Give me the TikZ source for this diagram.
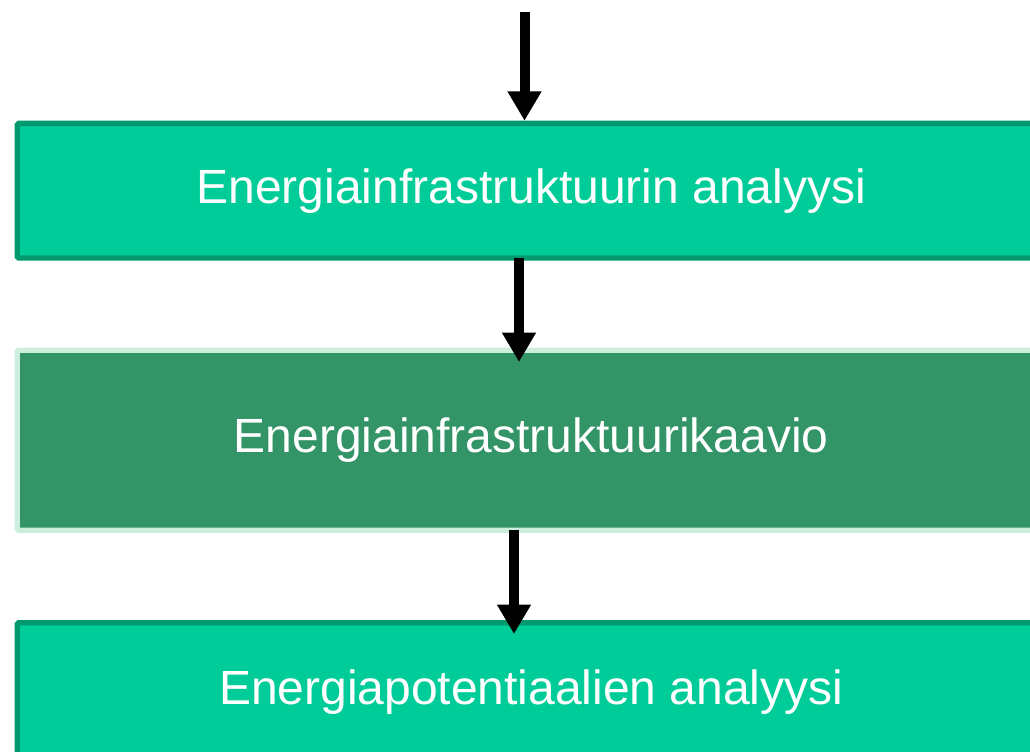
\documentclass[tikz,border=0pt]{standalone}
\usepackage{fontspec}
\setmainfont{Liberation Sans}
\usetikzlibrary{arrows.meta}
\definecolor{boxfill}{HTML}{00CC99}
\definecolor{boxline}{HTML}{00996F}
\definecolor{darkfill}{HTML}{339468}
\definecolor{darkline}{HTML}{CCEEDD}
\tikzset{
  stage/.style={draw=boxline, fill=boxfill, line width=4.1pt, rounded corners=1.2pt,
    text=white, font=\fontsize{36pt}{43pt}\selectfont, inner sep=0pt, anchor=north west},
  stagedark/.style={stage, draw=darkline, fill=darkfill},
  flow/.style={line width=7.5pt, -{Triangle[width=24pt,length=22pt]}}
}
\begin{document}
\begin{tikzpicture}[x=0.75pt,y=-0.75pt]
\useasboundingbox (0,0) rectangle (1030,752);
\clip (0,0) rectangle (1030,752);
\node[stage, minimum width=1028*0.75pt, minimum height=134.5*0.75pt] (box1) at (14.5,120.75) {Energiainfrastruktuurin analyysi};
\node[stagedark, minimum width=1028*0.75pt, minimum height=180*0.75pt] (box2) at (14.5,347.5) {Energiainfrastruktuurikaavio};
\node[stage, minimum width=1028*0.75pt, minimum height=138*0.75pt] (box3) at (14.5,620) {Energiapotentiaalien analyysi};
\coordinate (in1) at (524.5,12);
\coordinate (t1) at (524.5,118);
\coordinate (s2) at (519,252);
\coordinate (t2) at (519,362);
\coordinate (s3) at (514,524);
\coordinate (t3) at (514,634);
\draw[flow] (in1) -- (t1 |- box1.north);
\draw[flow] (s2 |- box1.south) ++(0,-3) -- (t2);
\draw[flow] (s3 |- box2.south) ++(0,-3) -- (t3);
\end{tikzpicture}
\end{document}
